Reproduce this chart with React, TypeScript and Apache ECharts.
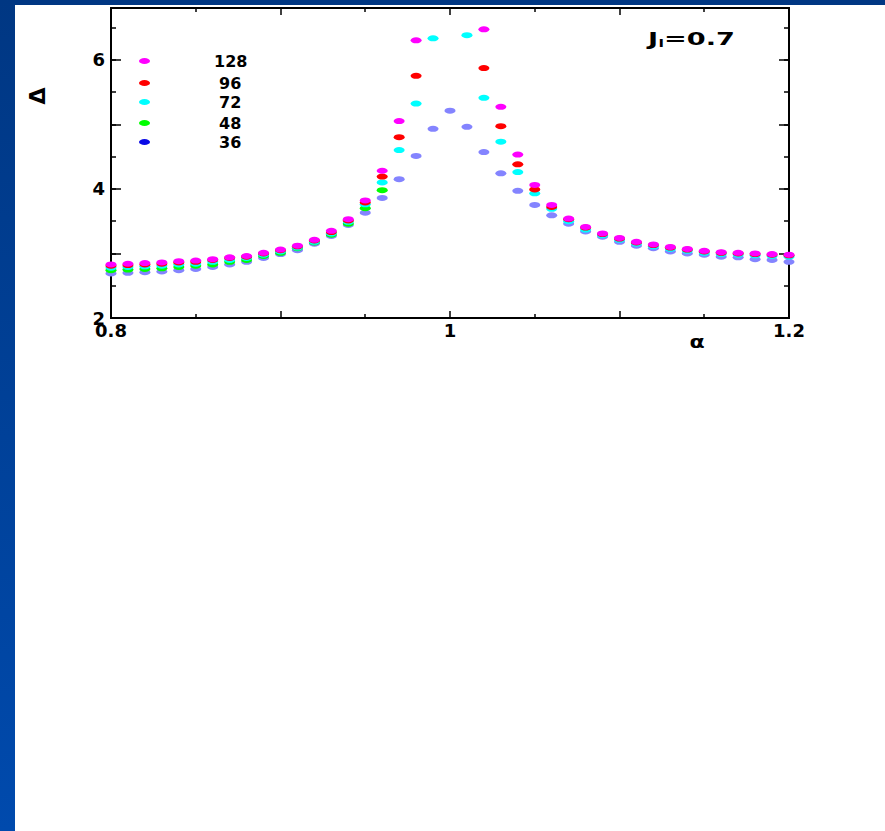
import React, { useEffect, useRef } from "react";
import * as echarts from "echarts";

// α values (x)
const alpha = [
  0.8, 0.81, 0.82, 0.83, 0.84, 0.85, 0.86, 0.87, 0.88, 0.89,
  0.9, 0.91, 0.92, 0.93, 0.94, 0.95, 0.96, 0.97, 0.98, 0.99,
  1.0, 1.01, 1.02, 1.03, 1.04, 1.05, 1.06, 1.07, 1.08, 1.09,
  1.1, 1.11, 1.12, 1.13, 1.14, 1.15, 1.16, 1.17, 1.18, 1.19, 1.2,
];

// Δ values per system size (null = no point shown)
const delta128 = [
  2.83, 2.84, 2.85, 2.86, 2.88, 2.89, 2.91, 2.94, 2.96, 3.01,
  3.06, 3.12, 3.21, 3.35, 3.53, 3.82, 4.28, 5.05, 6.3, null,
  null, null, 6.47, 5.27, 4.53, 4.06, 3.75, 3.54, 3.41, 3.31,
  3.24, 3.18, 3.14, 3.1, 3.07, 3.04, 3.02, 3.01, 3.0, 2.99, 2.98,
];
const delta96 = [
  2.81, 2.82, 2.83, 2.84, 2.86, 2.87, 2.9, 2.93, 2.95, 3.0,
  3.05, 3.11, 3.2, 3.33, 3.51, 3.79, 4.19, 4.8, 5.75, null,
  null, null, 5.87, 4.97, 4.38, 3.99, 3.72, 3.53, 3.4, 3.3,
  3.23, 3.17, 3.13, 3.09, 3.06, 3.03, 3.01, 3.0, 2.99, 2.98, 2.97,
];
const delta72 = [
  2.78, 2.79, 2.8, 2.81, 2.83, 2.84, 2.87, 2.9, 2.93, 2.98,
  3.03, 3.09, 3.18, 3.31, 3.49, 3.76, 4.1, 4.6, 5.32, 6.33,
  null, 6.38, 5.41, 4.73, 4.26, 3.93, 3.69, 3.5, 3.37, 3.28,
  3.21, 3.15, 3.11, 3.07, 3.04, 3.01, 2.99, 2.98, 2.97, 2.96, 2.95,
];
const delta48 = [
  2.74, 2.75, 2.76, 2.77, 2.79, 2.81, 2.83, 2.87, 2.9, 2.96,
  3.01, 3.08, 3.17, 3.29, 3.46, 3.7, 3.98, null, null, null,
  null, null, null, null, null, null, null, null, null, null,
  null, null, null, null, null, null, null, null, null, null, null,
];
const delta36 = [
  2.69, 2.7, 2.71, 2.72, 2.74, 2.76, 2.79, 2.83, 2.87, 2.93,
  2.99, 3.05, 3.15, 3.27, 3.44, 3.63, 3.86, 4.15, 4.51, 4.93,
  5.21, 4.96, 4.57, 4.24, 3.97, 3.75, 3.59, 3.46, 3.34, 3.26,
  3.18, 3.12, 3.08, 3.03, 3.0, 2.98, 2.95, 2.94, 2.91, 2.9, 2.87,
];

const seriesNames = ["128", "96", "72", "48", "36"];
const xTickLabels = [0.8, 1, 1.2];
const yTickLabels = [2, 4, 6];

const FONT = '"DejaVu Sans", "Liberation Sans", Arial, sans-serif';
const ELLIPSE = "path://M0,5A5,5 0 1 1 10,5A5,5 0 1 1 0,5Z";

function toPairs(vals: (number | null)[]) {
  const out: number[][] = [];
  vals.forEach((v, i) => {
    if (v !== null) out.push([alpha[i], v]);
  });
  return out;
}

function labelFor(list: number[]) {
  return (v: number) => {
    for (const t of list) {
      if (Math.abs(v - t) < 1e-6) return String(t);
    }
    return "";
  };
}

export default function App() {
  const ref = useRef<HTMLDivElement>(null);

  useEffect(() => {
    if (!ref.current) return;
    const chart = echarts.init(ref.current, undefined, { renderer: "svg" });

    const seriesDefs = [
      { name: "36", data: delta36, color: "#8484ff", legendColor: "#0a0ae6" },
      { name: "48", data: delta48, color: "#00ff00", legendColor: "#00ff00" },
      { name: "72", data: delta72, color: "#00ffff", legendColor: "#00ffff" },
      { name: "96", data: delta96, color: "#ff0000", legendColor: "#ff0000" },
      { name: "128", data: delta128, color: "#ff00ff", legendColor: "#ff00ff" },
    ];

    const legendCenters: Record<string, number> = { "128": 61, "96": 83, "72": 102, "48": 123, "36": 142 };
    const legends = seriesNames.map((n) => {
      const def = seriesDefs.find((d) => d.name === n)!;
      const pad = n.length === 3 ? 59 : 64;
      return {
        show: true,
        left: 139,
        top: legendCenters[n] - 8,
        padding: 0,
        itemWidth: 11,
        itemHeight: 6,
        icon: ELLIPSE,
        symbolKeepAspect: false,
        selectedMode: false,
        data: [{ name: n, itemStyle: { color: def.legendColor } }],
        textStyle: {
          fontFamily: FONT,
          fontWeight: "bold",
          fontSize: 16,
          lineHeight: 16,
          color: "#000",
          padding: [0, 0, 0, pad],
        },
      };
    });

    const axisLine = { show: true, lineStyle: { color: "#000", width: 2 } };
    const labelStyle = {
      fontFamily: FONT,
      fontWeight: "bold" as const,
      fontSize: 18,
      color: "#000",
    };

    const xBase = {
      type: "value" as const,
      min: 0.8,
      max: 1.2,
      interval: 0.1,
      axisLine,
      splitLine: { show: false },
      axisTick: { show: true, inside: true, length: 7, lineStyle: { color: "#000", width: 1.5 } },
      minorTick: { show: true, splitNumber: 2, length: 4, lineStyle: { color: "#000", width: 1.5 } },
    };

    const yBase = {
      type: "value" as const,
      min: 2,
      max: 6.8,
      axisLine,
      splitLine: { show: false },
    };

    const option: any = {
      animation: false,
      backgroundColor: "#ffffff",
      grid: { left: 111, right: 96, top: 8, bottom: 513, containLabel: false },
      legend: legends,
      xAxis: [
        {
          ...xBase,
          position: "bottom",
          axisLabel: { ...labelStyle, margin: 3, formatter: labelFor(xTickLabels) },
        },
        { ...xBase, position: "top", axisLabel: { show: false } },
      ],
      yAxis: [
        {
          ...yBase,
          position: "left",
          interval: 1,
          axisTick: { show: true, inside: true, length: 10, lineStyle: { color: "#000", width: 1.5 } },
          axisLabel: { ...labelStyle, margin: 6, formatter: labelFor(yTickLabels) },
        },
        {
          ...yBase,
          position: "left",
          interval: 0.5,
          axisTick: { show: true, inside: true, length: 5, lineStyle: { color: "#000", width: 1.5 } },
          axisLabel: { show: false },
        },
        {
          ...yBase,
          position: "right",
          interval: 1,
          axisTick: { show: true, inside: true, length: 10, lineStyle: { color: "#000", width: 1.5 } },
          axisLabel: { show: false },
        },
        {
          ...yBase,
          position: "right",
          interval: 0.5,
          axisTick: { show: true, inside: true, length: 5, lineStyle: { color: "#000", width: 1.5 } },
          axisLabel: { show: false },
        },
      ],
      series: seriesDefs.map((d) => ({
        name: d.name,
        type: "scatter",
        xAxisIndex: 0,
        yAxisIndex: 0,
        symbol: ELLIPSE,
        symbolSize: [11, 6],
        symbolKeepAspect: false,
        clip: false,
        itemStyle: { color: d.color, opacity: 1 },
        emphasis: { disabled: true },
        data: toPairs(d.data),
      })),
      graphic: [
        {
          type: "rect",
          left: 0,
          top: 0,
          shape: { x: 0, y: 0, width: 885, height: 5 },
          style: { fill: "#003783" },
          silent: true,
        },
        {
          type: "rect",
          left: 0,
          top: 0,
          shape: { x: 0, y: 0, width: 15, height: 831 },
          style: {
            fill: new echarts.graphic.LinearGradient(0, 0, 0, 1, [
              { offset: 0, color: "#003783" },
              { offset: 1, color: "#004aad" },
            ]),
          },
          silent: true,
        },
        {
          type: "text",
          x: 697,
          y: 342,
          scaleX: 1.3,
          style: {
            text: "α",
            font: `bold 17px ${FONT}`,
            fill: "#000",
            align: "center",
            verticalAlign: "middle",
          },
        },
        {
          type: "text",
          x: 37,
          y: 96,
          rotation: Math.PI / 2,
          style: {
            text: "Δ",
            font: `bold 22px ${FONT}`,
            fill: "#000",
            align: "center",
            verticalAlign: "middle",
          },
        },
        {
          type: "group",
          x: 648,
          y: 39,
          scaleX: 1.6,
          children: [
            {
              type: "text",
              x: 0,
              y: 0,
              style: { text: "J", font: `bold 17px ${FONT}`, fill: "#000", align: "left", verticalAlign: "middle" },
            },
            {
              type: "text",
              x: 6.6,
              y: 5,
              style: { text: "l", font: `bold 10px ${FONT}`, fill: "#000", align: "left", verticalAlign: "middle" },
            },
            {
              type: "text",
              x: 10,
              y: 0,
              style: { text: "=0.7", font: `bold 17px ${FONT}`, fill: "#000", align: "left", verticalAlign: "middle" },
            },
          ],
        },
      ],
    };

    chart.setOption(option);
    return () => chart.dispose();
  }, []);

  return (
    <div
      ref={ref}
      style={{ position: "absolute", left: 0, top: 0, width: 885, height: 831, background: "#fff" }}
    />
  );
}
